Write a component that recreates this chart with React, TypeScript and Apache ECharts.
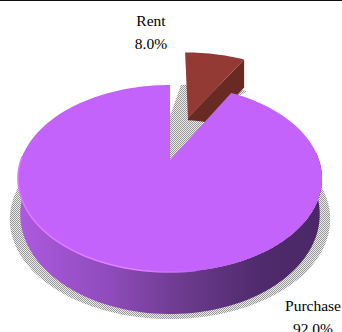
import React, { useEffect, useRef } from "react";
import * as echarts from "echarts";

// Tenure split drawn as an exploded 3D disc.
const categories = ["Rent", "Purchase"];
const shares = [8.0, 92.0];
const explodedCategory = "Rent";

const W = 342;
const H = 332;
const FONT = '"Liberation Serif", "Times New Roman", serif';

// Projective view of the pie plane: (u, v) are plane coordinates on the unit disc.
const CX = 170;
const SPREAD = 149;
const PERSP = 0.198;
const project = (u: number, v: number): [number, number] => {
  const den = 1 + PERSP * v;
  return [CX + (SPREAD * u) / den, (160 - 58.2 * v) / den];
};
// The lower rim sits on a plane further from the viewer.
const drop = ([x, y]: [number, number]): [number, number] => [
  CX + (x - CX) * 0.985,
  y * 1.066 + 24,
];
const polar = (deg: number, r: number, o: [number, number]): [number, number] => {
  const a = (deg * Math.PI) / 180;
  return [o[0] + r * Math.sin(a), o[1] + r * Math.cos(a)];
};

const arc = (from: number, to: number, origin: [number, number], radius = 1) => {
  const pts: [number, number][] = [];
  const n = Math.max(2, Math.ceil(Math.abs(to - from) / 2));
  for (let i = 0; i <= n; i++) {
    const p = polar(from + ((to - from) * i) / n, radius, origin);
    pts.push(project(p[0], p[1]));
  }
  return pts;
};

// Stipple tile for the soft drop shadow.
const stipple = (() => {
  const c = document.createElement("canvas");
  c.width = 2;
  c.height = 2;
  const g = c.getContext("2d")!;
  g.fillStyle = "#ececec";
  g.fillRect(0, 0, 2, 2);
  g.fillStyle = "#979797";
  g.fillRect(0, 0, 1, 1);
  g.fillRect(1, 1, 1, 1);
  return { image: c.toDataURL(), repeat: "repeat", imageWidth: 2, imageHeight: 2 };
})();

const wedgeSpan = (index: number) => {
  const total = shares.reduce((a, b) => a + b, 0);
  const before = shares.slice(0, index).reduce((a, b) => a + b, 0);
  return [(before / total) * 360, ((before + shares[index]) / total) * 360];
};

const renderSlice = (params: any) => {
  const i = params.dataIndex;
  const [start, end] = wedgeSpan(i);
  const mid = (start + end) / 2;
  const exploded = categories[i] === explodedCategory;
  const origin: [number, number] = exploded ? polar(mid, 0.535, [0, 0]) : [0, 0];
  const apex = project(origin[0], origin[1]);
  const rim = arc(start, end, origin, exploded ? 1.05 : 1);
  const children: any[] = [];

  if (exploded) {
    // Shadow thrown behind the pulled-out wedge.
    const so: [number, number] = [-0.036, 0.35];
    const fan: [number, number][] = [project(so[0], so[1])];
    for (let t = 0; t <= 20; t++) {
      const p = polar(10.8 + t * 1.96, 0.66 + (t / 20) * 0.19, so);
      fan.push(project(p[0], p[1]));
    }
    children.push({ type: "polygon", shape: { points: fan }, style: { fill: stipple } });

    // Inner cut face, then the top of the wedge.
    const outer = rim[rim.length - 1];
    children.push({
      type: "polygon",
      shape: { points: [apex, outer, [outer[0], outer[1] + 28], drop(apex)] },
      style: { fill: "#6a2a24" },
    });
    children.push({
      type: "polygon",
      shape: { points: [apex, ...rim] },
      style: { fill: "#923a33" },
    });
  } else {
    // Shadow under the whole disc.
    const ground = arc(0, 360, [0, 0]).map((p) => {
      const q = drop(p);
      return [CX + (q[0] - CX) * 1.07, q[1] + 5] as [number, number];
    });
    children.push({ type: "polygon", shape: { points: ground }, style: { fill: stipple } });

    // Front wall, running from lit on the left to shaded on the right.
    const front = arc(Math.max(start, 85), Math.min(end, 275), origin);
    children.push({
      type: "polygon",
      shape: { points: [...front, ...front.map(drop).reverse()] },
      style: {
        fill: {
          type: "linear",
          x: 0,
          y: 0,
          x2: 1,
          y2: 0,
          colorStops: [
            { offset: 0, color: "#ad5ae0" },
            { offset: 0.3, color: "#8f4bbb" },
            { offset: 0.55, color: "#6b3a8c" },
            { offset: 0.8, color: "#4f2a6c" },
            { offset: 1, color: "#4a2866" },
          ],
        },
      },
    });
    children.push({
      type: "polygon",
      shape: { points: [apex, ...rim] },
      style: { fill: "#c463fb" },
    });
    // Lit edge along the front of the top face.
    children.push({
      type: "polyline",
      shape: { points: arc(172, 272, origin) },
      style: {
        fill: "none",
        lineWidth: 1.6,
        stroke: {
          type: "linear",
          x: 1,
          y: 0,
          x2: 0,
          y2: 0,
          colorStops: [
            { offset: 0, color: "#c463fb" },
            { offset: 0.35, color: "#e482ff" },
            { offset: 1, color: "#dc78ff" },
          ],
        },
      },
    });
  }

  const labelPos = exploded ? { x: 151, y: 20, gap: 23 } : { x: 313, y: 305, gap: 23 };
  [categories[i], `${shares[i].toFixed(1)}%`].forEach((text, line) => {
    children.push({
      type: "text",
      x: labelPos.x,
      y: labelPos.y + line * labelPos.gap,
      style: {
        text,
        fill: "#000000",
        font: `15.5px ${FONT}`,
        align: "center",
        verticalAlign: "middle",
      },
    });
  });

  return { type: "group", children };
};

export default function App() {
  const ref = useRef<HTMLDivElement>(null);
  useEffect(() => {
    const chart = echarts.init(ref.current!, undefined, { renderer: "svg" });
    chart.setOption({
      animation: false,
      backgroundColor: "#ffffff",
      graphic: [
        {
          type: "rect",
          shape: { x: 0, y: 0, width: W, height: 1 },
          style: { fill: "#111111" },
          z: 10,
        },
      ],
      series: [
        {
          type: "custom",
          coordinateSystem: "none",
          renderItem: renderSlice,
          data: shares.map((value, i) => ({ name: categories[i], value })),
        },
      ],
    });
    return () => chart.dispose();
  }, []);
  return (
    <div
      ref={ref}
      style={{ position: "fixed", left: 0, top: 0, width: W, height: H, overflow: "hidden" }}
    />
  );
}
